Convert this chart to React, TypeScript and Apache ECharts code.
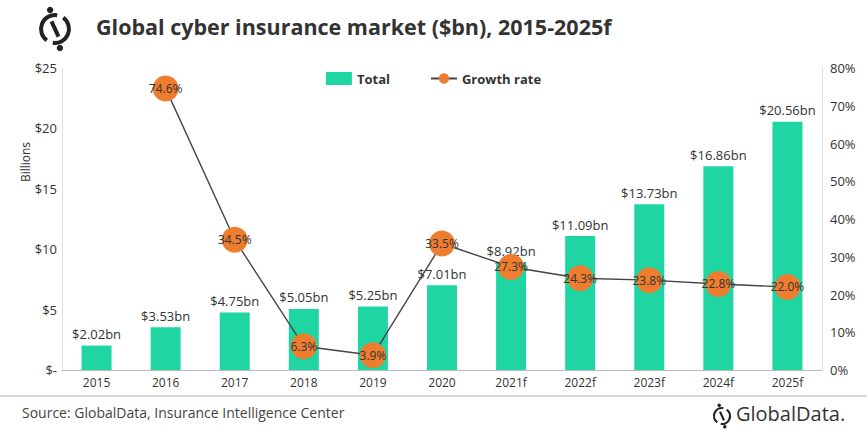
import React, { useEffect, useRef } from "react";
import * as echarts from "echarts";

const categories = ["2015", "2016", "2017", "2018", "2019", "2020", "2021f", "2022f", "2023f", "2024f", "2025f"];
const totals = [2.02, 3.53, 4.75, 5.05, 5.25, 7.01, 8.92, 11.09, 13.73, 16.86, 20.56];
const growth: (number | null)[] = [null, 74.6, 34.5, 6.3, 3.9, 33.5, 27.3, 24.3, 23.8, 22.8, 22.0];

const logo = (cx: number, cy: number, r: number, lw: number) => [
  {
    type: "arc",
    shape: { cx, cy, r, startAngle: -Math.PI * 0.3, endAngle: Math.PI * 0.55 },
    style: { stroke: "#222", lineWidth: lw, fill: "none" },
  },
  {
    type: "arc",
    shape: { cx, cy, r, startAngle: Math.PI * 0.7, endAngle: Math.PI * 1.55 },
    style: { stroke: "#222", lineWidth: lw, fill: "none" },
  },
  {
    type: "line",
    shape: { x1: cx - r * 0.25, y1: cy - r * 0.55, x2: cx + r * 0.25, y2: cy + r * 0.55 },
    style: { stroke: "#222", lineWidth: lw },
  },
  { type: "circle", shape: { cx: cx - r * 0.35, cy: cy - r * 1.35, r: lw * 0.8 }, style: { fill: "#222" } },
  { type: "circle", shape: { cx: cx + r * 0.35, cy: cy + r * 1.35, r: lw * 0.8 }, style: { fill: "#222" } },
];

export default function App() {
  const ref = useRef<HTMLDivElement>(null);
  useEffect(() => {
    const chart = echarts.init(ref.current!, undefined, { renderer: "svg" });
    chart.setOption({
      animation: false,
      backgroundColor: "#fff",
      textStyle: { fontFamily: "Open Sans" },
      graphic: [
        ...logo(55, 29, 14, 4),
        {
          type: "text",
          left: 96,
          top: 15,
          style: { text: "Global cyber insurance market ($bn), 2015-2025f", fontSize: 21.5, fontWeight: "bold", fill: "#333", fontFamily: "Open Sans" },
        },
        {
          type: "text",
          x: 25,
          y: 162,
          rotation: Math.PI / 2,
          style: { text: "Billions", fontSize: 12, fill: "#333", fontFamily: "Open Sans", align: "center", verticalAlign: "middle" },
        },
        {
          type: "line",
          shape: { x1: 0, y1: 396, x2: 867, y2: 396 },
          style: { stroke: "#d8d8d8", lineWidth: 2 },
        },
        {
          type: "text",
          left: 22,
          top: 405,
          style: { text: "Source: GlobalData, Insurance Intelligence Center", fontSize: 14, fill: "#444", fontFamily: "Open Sans" },
        },
        ...logo(722, 416, 8, 2.2),
        {
          type: "text",
          left: 736,
          top: 403,
          style: { text: "GlobalData.", fontSize: 20, fill: "#333", fontFamily: "Open Sans" },
        },
      ],
      legend: {
        top: 67,
        left: "center",
        itemGap: 40,
        textStyle: { fontSize: 13, fontWeight: "bold", color: "#333" },
        data: [
          { name: "Total", icon: "rect", itemStyle: { color: "#1fd6a2" } },
          { name: "Growth rate" },
        ],
        itemWidth: 26,
        itemHeight: 13,
      },
      grid: { left: 62, right: 45, top: 68, bottom: 61 },
      xAxis: {
        type: "category",
        data: categories,
        axisLine: { lineStyle: { color: "#bbb" } },
        axisTick: { show: false },
        axisLabel: { color: "#333", fontSize: 12, margin: 6 },
      },
      yAxis: [
        {
          type: "value",
          min: 0,
          max: 25,
          interval: 5,
          axisLine: { show: true, lineStyle: { color: "#ddd" } },
          axisTick: { show: false },
          splitLine: { show: false },
          axisLabel: { color: "#333", fontSize: 13, formatter: (v: number) => (v === 0 ? "$-" : "$" + v), margin: 5 },
        },
        {
          type: "value",
          min: 0,
          max: 80,
          interval: 10,
          axisLine: { show: true, lineStyle: { color: "#ddd" } },
          axisTick: { show: false },
          splitLine: { show: false },
          axisLabel: { color: "#333", fontSize: 13, formatter: "{value}%", margin: 8 },
        },
      ],
      series: [
        {
          name: "Total",
          type: "bar",
          data: totals,
          barWidth: 30,
          itemStyle: { color: "#1fd6a2" },
          label: {
            show: true,
            position: "top",
            color: "#333",
            fontSize: 13,
            formatter: (p: any) => "$" + p.value.toFixed(2) + "bn",
          },
        },
        {
          name: "Growth rate",
          type: "line",
          yAxisIndex: 1,
          data: growth,
          symbol: "circle",
          symbolSize: 26,
          itemStyle: { color: "#ee7d2f" },
          lineStyle: { color: "#444", width: 1.4 },
          label: {
            show: true,
            position: "inside",
            color: "#333",
            fontSize: 12,
            formatter: (p: any) => p.value.toFixed(1) + "%",
          },
          z: 3,
        },
      ],
    });
    return () => chart.dispose();
  }, []);
  return <div ref={ref} style={{ position: "absolute", left: 0, top: 0, width: 867, height: 431 }} />;
}
